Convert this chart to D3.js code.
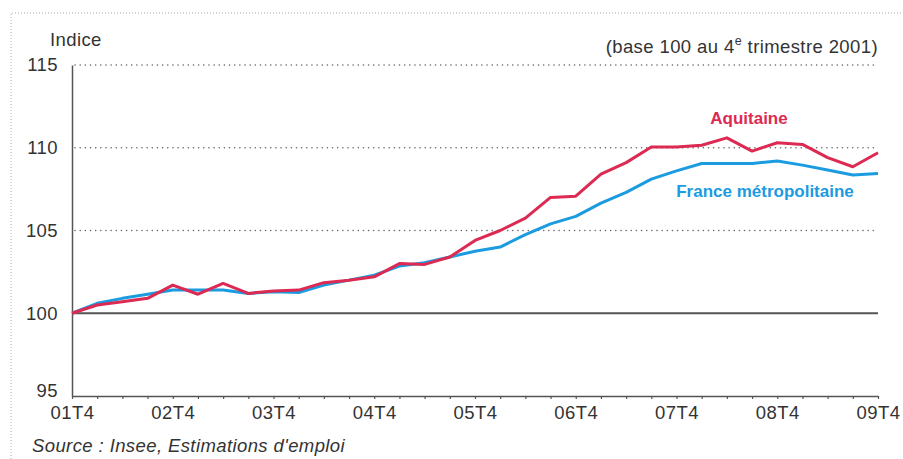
<!DOCTYPE html>
<html>
<head>
<meta charset="utf-8">
<script src="https://cdn.jsdelivr.net/npm/d3@7"></script>
<style>
  body { margin: 0; background: #fff; }
  svg { display: block; font-family: "Liberation Sans", Arial, sans-serif; }
</style>
</head>
<body>
<svg id="chart" width="903" height="459"></svg>
<script>
// quarters from 01T4 to 09T4
const quarters = [
  "01T4", "02T1", "02T2", "02T3", "02T4", "03T1", "03T2", "03T3", "03T4",
  "04T1", "04T2", "04T3", "04T4", "05T1", "05T2", "05T3", "05T4",
  "06T1", "06T2", "06T3", "06T4", "07T1", "07T2", "07T3", "07T4",
  "08T1", "08T2", "08T3", "08T4", "09T1", "09T2", "09T3", "09T4"
];
const tickLabels = ["01T4", "02T4", "03T4", "04T4", "05T4", "06T4", "07T4", "08T4", "09T4"];
const yTicks = [95, 100, 105, 110, 115];

const aquitaine = [100, 100.5, 100.7, 100.9, 101.7, 101.15, 101.8, 101.2, 101.35,
  101.4, 101.85, 102.0, 102.2, 103.0, 102.95, 103.4, 104.4,
  105.0, 105.75, 107.0, 107.07, 108.4, 109.1, 110.05, 110.05,
  110.15, 110.6, 109.8, 110.3, 110.2, 109.4, 108.85, 109.7];
const france = [100, 100.6, 100.9, 101.15, 101.4, 101.4, 101.4, 101.2, 101.3,
  101.25, 101.7, 102.0, 102.3, 102.85, 103.05, 103.4, 103.75,
  104.0, 104.75, 105.4, 105.85, 106.65, 107.3, 108.1, 108.6,
  109.05, 109.05, 109.05, 109.2, 108.95, 108.65, 108.35, 108.45];

const red = "#dc2a52";
const blue = "#1b9be0";
const textColor = "#333";
const fontSize = "18.5px";
const spacing = "0.4px";

const svg = d3.select("#chart");
const plotLeft = 72, plotRight = 878, plotTop = 65, plotBottom = 396;

const x = d3.scalePoint().domain(quarters).range([plotLeft, plotRight]);
const y = d3.scaleLinear().domain([95, 115]).range([plotBottom, plotTop]);

// dotted frame, left and top
svg.append("path")
  .attr("d", "M11,459 L11,13 L903,13")
  .attr("fill", "none")
  .attr("stroke", "#aaa")
  .attr("stroke-width", 1)
  .attr("stroke-dasharray", "1,2");

// dotted gridlines
svg.append("g")
  .selectAll("line")
  .data(yTicks.filter(d => d > 100))
  .join("line")
  .attr("x1", plotLeft + 3).attr("x2", plotRight)
  .attr("y1", d => y(d)).attr("y2", d => y(d))
  .attr("stroke", "#666")
  .attr("stroke-width", 1.5)
  .attr("stroke-linecap", "round")
  .attr("stroke-dasharray", "0.1,5.05");

// base 100 line
svg.append("line")
  .attr("x1", plotLeft).attr("x2", plotRight)
  .attr("y1", y(100)).attr("y2", y(100))
  .attr("stroke", "#555")
  .attr("stroke-width", 2);

// x axis
const xAxis = svg.append("g")
  .attr("transform", `translate(0,${plotBottom})`)
  .call(d3.axisBottom(x)
    .tickSize(3)
    .tickSizeOuter(0)
    .tickFormat(d => tickLabels.includes(d) ? d : ""));
xAxis.select(".domain").attr("stroke", "#555").attr("stroke-width", 1.5);
xAxis.selectAll(".tick line").attr("stroke", "#555").attr("stroke-width", 1.2);
xAxis.selectAll(".tick text")
  .attr("y", 10)
  .attr("fill", textColor)
  .style("font-size", fontSize)
  .style("letter-spacing", spacing);

// y axis
const yAxis = svg.append("g")
  .attr("transform", `translate(${plotLeft},0)`)
  .call(d3.axisLeft(y)
    .tickValues(yTicks)
    .tickSize(0)
    .tickSizeOuter(0)
    .tickPadding(14));
yAxis.select(".domain").attr("stroke", "#555").attr("stroke-width", 1.5);
yAxis.selectAll(".tick text")
  .attr("fill", textColor)
  .style("font-size", fontSize)
  .style("letter-spacing", spacing);
yAxis.selectAll(".tick")
  .filter(d => d === 95)
  .select("text").attr("dy", "0.05em");

// lines
const line = d3.line()
  .x((d, i) => x(quarters[i]))
  .y(d => y(d));

svg.append("path")
  .datum(france)
  .attr("d", line)
  .attr("fill", "none")
  .attr("stroke", blue)
  .attr("stroke-width", 3)
  .attr("stroke-linejoin", "round");

svg.append("path")
  .datum(aquitaine)
  .attr("d", line)
  .attr("fill", "none")
  .attr("stroke", red)
  .attr("stroke-width", 3)
  .attr("stroke-linejoin", "round");

// series labels
svg.append("text")
  .attr("x", 749).attr("y", 124)
  .attr("text-anchor", "middle")
  .attr("fill", red)
  .style("font-size", "17px")
  .style("font-weight", "bold")
  .text("Aquitaine");

svg.append("text")
  .attr("x", 765).attr("y", 197)
  .attr("text-anchor", "middle")
  .attr("fill", blue)
  .style("font-size", "17px")
  .style("font-weight", "bold")
  .text("France métropolitaine");

// titles
svg.append("text")
  .attr("x", 50).attr("y", 46)
  .attr("fill", textColor)
  .style("font-size", fontSize)
  .style("letter-spacing", spacing)
  .text("Indice");

const base = svg.append("text")
  .attr("x", plotRight).attr("y", 53)
  .attr("text-anchor", "end")
  .attr("fill", textColor)
  .style("font-size", fontSize)
  .style("letter-spacing", spacing);
base.append("tspan").text("(base 100 au 4");
base.append("tspan").attr("dy", -8).style("font-size", "12.5px").text("e");
base.append("tspan").attr("dy", 8).text(" trimestre 2001)");

svg.append("text")
  .attr("x", 32).attr("y", 452)
  .attr("fill", textColor)
  .style("font-size", fontSize)
  .style("letter-spacing", spacing)
  .style("font-style", "italic")
  .text("Source : Insee, Estimations d'emploi");
</script>
</body>
</html>
